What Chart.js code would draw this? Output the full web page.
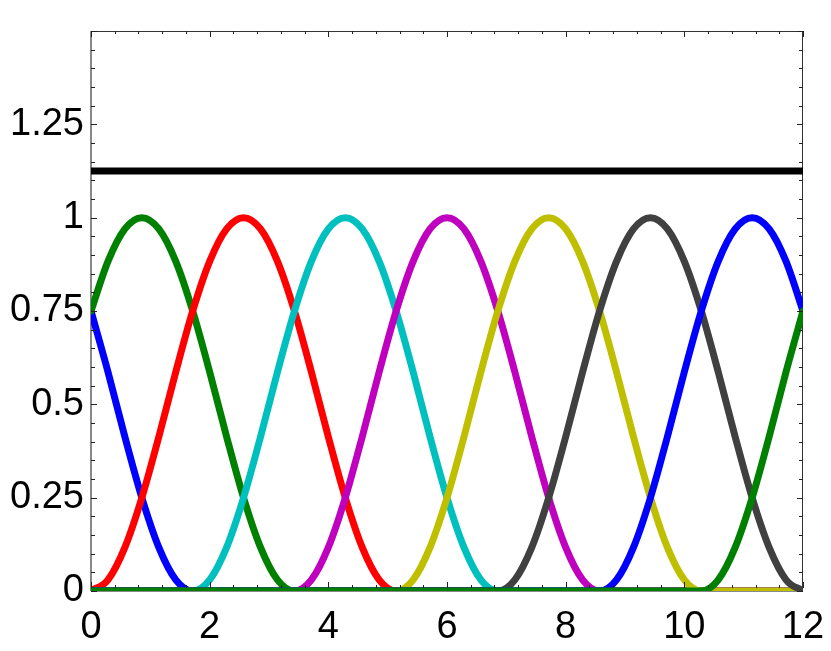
<!DOCTYPE html>
<html>
<head>
<meta charset="utf-8">
<script src="https://cdn.jsdelivr.net/npm/chart.js@4/dist/chart.umd.min.js"></script>
<style>
  html, body { margin: 0; padding: 0; background: #fff; }
  #wrap { width: 831px; height: 651px; }
</style>
</head>
<body>
<div id="wrap"><canvas id="basisChart" width="831" height="651"></canvas></div>
<script>
// sample positions along x (0..12)
const xValues = [0, 0.286, 0.571, 0.857, 1.143, 1.429, 1.714, 2, 2.286, 2.571, 2.857,
  3.143, 3.429, 3.714, 4, 4.286, 4.571, 4.857, 5.143, 5.429, 5.714, 6, 6.286, 6.571,
  6.857, 7.143, 7.429, 7.714, 8, 8.286, 8.571, 8.857, 9.143, 9.429, 9.714, 10, 10.286,
  10.571, 10.857, 11.143, 11.429, 11.714, 12];

// basis curves (one per drawn line, in plotting order)
const basis1 = [0.75, 0.587, 0.413, 0.25, 0.117, 0.030,
  0, 0, 0, 0, 0, 0, 0, 0, 0, 0, 0, 0, 0, 0, 0, 0, 0, 0, 0, 0, 0, 0, 0, 0, 0, 0, 0, 0, 0, 0, 0, 0, 0, 0, 0, 0, 0];
const basis2 = [0.75, 0.883, 0.970, 1, 0.970, 0.883, 0.75, 0.587, 0.413, 0.25, 0.117, 0.030,
  0, 0, 0, 0, 0, 0, 0, 0, 0, 0, 0, 0, 0, 0, 0, 0, 0, 0, 0, 0, 0, 0, 0, 0, 0, 0, 0, 0, 0, 0, 0];
const basis3 = [0,
  0.030, 0.117, 0.25, 0.413, 0.587, 0.75, 0.883, 0.970, 1, 0.970, 0.883, 0.75, 0.587, 0.413, 0.25, 0.117, 0.030,
  0, 0, 0, 0, 0, 0, 0, 0, 0, 0, 0, 0, 0, 0, 0, 0, 0, 0, 0, 0, 0, 0, 0, 0, 0];
const basis4 = [0, 0, 0, 0, 0, 0, 0,
  0.030, 0.117, 0.25, 0.413, 0.587, 0.75, 0.883, 0.970, 1, 0.970, 0.883, 0.75, 0.587, 0.413, 0.25, 0.117, 0.030,
  0, 0, 0, 0, 0, 0, 0, 0, 0, 0, 0, 0, 0, 0, 0, 0, 0, 0, 0];
const basis5 = [0, 0, 0, 0, 0, 0, 0, 0, 0, 0, 0, 0, 0,
  0.030, 0.117, 0.25, 0.413, 0.587, 0.75, 0.883, 0.970, 1, 0.970, 0.883, 0.75, 0.587, 0.413, 0.25, 0.117, 0.030,
  0, 0, 0, 0, 0, 0, 0, 0, 0, 0, 0, 0, 0];
const basis6 = [0, 0, 0, 0, 0, 0, 0, 0, 0, 0, 0, 0, 0, 0, 0, 0, 0, 0, 0,
  0.030, 0.117, 0.25, 0.413, 0.587, 0.75, 0.883, 0.970, 1, 0.970, 0.883, 0.75, 0.587, 0.413, 0.25, 0.117, 0.030,
  0, 0, 0, 0, 0, 0, 0];
const basis7 = [0, 0, 0, 0, 0, 0, 0, 0, 0, 0, 0, 0, 0, 0, 0, 0, 0, 0, 0, 0, 0, 0, 0, 0, 0,
  0.030, 0.117, 0.25, 0.413, 0.587, 0.75, 0.883, 0.970, 1, 0.970, 0.883, 0.75, 0.587, 0.413, 0.25, 0.117, 0.030,
  0];
const basis8 = [0, 0, 0, 0, 0, 0, 0, 0, 0, 0, 0, 0, 0, 0, 0, 0, 0, 0, 0, 0, 0, 0, 0, 0, 0, 0, 0, 0, 0, 0, 0,
  0.030, 0.117, 0.25, 0.413, 0.587, 0.75, 0.883, 0.970, 1, 0.970, 0.883, 0.75];
const basis9 = [0, 0, 0, 0, 0, 0, 0, 0, 0, 0, 0, 0, 0, 0, 0, 0, 0, 0, 0, 0, 0, 0, 0, 0, 0, 0, 0, 0, 0, 0, 0, 0, 0, 0, 0, 0, 0,
  0.030, 0.117, 0.25, 0.413, 0.587, 0.75];

// the flat black line
const sumX = [0, 12];
const sumY = [1.125, 1.125];

const basisSeries = [basis1, basis2, basis3, basis4, basis5, basis6, basis7, basis8, basis9];
const basisColors = ['#0000ff', '#008000', '#ff0000', '#00bfbf', '#bf00bf', '#bfbf00', '#404040', '#0000ff', '#008000'];

// y tick labels (1.5 is left blank in the original)
const yTickLabels = { 0: '0', 0.25: '0.25', 0.5: '0.5', 0.75: '0.75', 1: '1', 1.25: '1.25', 1.5: '' };

const FONT = { family: '"Liberation Sans", Arial, sans-serif', size: 38 };

const seg = (ctx, x1, y1, x2, y2) => { ctx.beginPath(); ctx.moveTo(x1, y1); ctx.lineTo(x2, y2); ctx.stroke(); };

// Box under the curves, MATLAB-style inward ticks over them
const frameTicks = {
  id: 'frameTicks',
  beforeDatasetsDraw(chart) {
    const { ctx, chartArea: a } = chart;
    ctx.save();
    ctx.strokeStyle = '#333';
    ctx.lineWidth = 1;
    seg(ctx, a.left, a.top + 0.5, a.right, a.top + 0.5);
    seg(ctx, a.right - 0.5, a.top, a.right - 0.5, a.bottom);
    ctx.strokeStyle = '#888';
    ctx.lineWidth = 2;
    seg(ctx, a.left, a.top, a.left, a.bottom);
    seg(ctx, a.left, a.bottom, a.right, a.bottom);
    ctx.restore();
  },
  afterDatasetsDraw(chart) {
    const { ctx, chartArea: a, scales } = chart;
    const xs = scales.x, ys = scales.y;
    ctx.save();
    ctx.strokeStyle = '#222';
    ctx.lineWidth = 1;
    // x ticks: major every 2, minor every 0.4
    for (let i = 0; i <= 30; i++) {
      const px = Math.round(xs.getPixelForValue(i * 0.4)) + 0.5;
      const len = (i % 5 === 0) ? 6 : 3;
      seg(ctx, px, a.top, px, a.top + len);
      seg(ctx, px, a.bottom - 3, px, a.bottom - 3 - len);
    }
    // y ticks: major every 0.25, minor every 0.05
    for (let i = 0; i <= 30; i++) {
      const py = Math.round(ys.getPixelForValue(i * 0.05)) + 0.5;
      const len = (i % 5 === 0) ? 6 : 4;
      seg(ctx, a.left, py, a.left + len, py);
      seg(ctx, a.right, py, a.right - len, py);
    }
    ctx.restore();
  }
};

const datasets = basisSeries.map((vals, k) => ({
  data: xValues.map((x, i) => ({ x, y: vals[i] })),
  borderColor: basisColors[k],
  borderWidth: 7,
  borderJoinStyle: 'round',
  borderCapStyle: 'round',
  pointRadius: 0,
  cubicInterpolationMode: 'monotone',
  // later curves sit on top
  order: basisSeries.length - k + 1
}));

datasets.push({
  data: sumX.map((x, i) => ({ x, y: sumY[i] })),
  borderColor: '#000',
  borderWidth: 7,
  pointRadius: 0,
  order: 0
});

new Chart(document.getElementById('basisChart'), {
  type: 'line',
  data: { datasets },
  options: {
    responsive: false,
    animation: false,
    layout: { padding: { top: 31, right: 28, left: 0, bottom: 0 } },
    plugins: { legend: { display: false }, tooltip: { enabled: false } },
    scales: {
      x: {
        type: 'linear',
        min: 0,
        max: 12,
        grid: { display: false, drawTicks: false },
        border: { display: false },
        ticks: { stepSize: 2, color: '#000', font: FONT, padding: 14, maxRotation: 0 },
        afterFit(scale) {
          scale.height = 60;
          scale.paddingLeft = 0;
          scale.paddingRight = 0;
        }
      },
      y: {
        type: 'linear',
        min: 0,
        max: 1.5,
        grid: { display: false, drawTicks: false },
        border: { display: false },
        ticks: {
          stepSize: 0.25,
          color: '#000',
          font: FONT,
          padding: 7,
          callback: (v) => (v in yTickLabels ? yTickLabels[v] : '')
        },
        afterFit(scale) {
          scale.width = 91;
          scale.paddingTop = 0;
          scale.paddingBottom = 0;
        }
      }
    }
  },
  plugins: [frameTicks]
});
</script>
</body>
</html>
